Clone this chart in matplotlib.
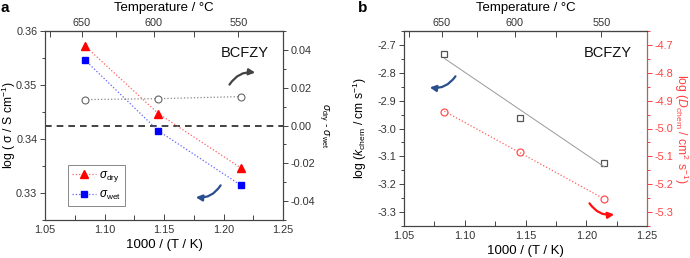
import numpy as np
import matplotlib
matplotlib.use("Agg")
import matplotlib.pyplot as plt
from matplotlib.patches import FancyArrowPatch
from matplotlib.ticker import MultipleLocator, FixedLocator

plt.rcParams['font.family'] = ['Liberation Sans', 'DejaVu Sans']
plt.rcParams['mathtext.fontset'] = 'custom'
plt.rcParams['mathtext.rm'] = 'Liberation Sans'
plt.rcParams['mathtext.it'] = 'Liberation Sans:italic'
plt.rcParams['mathtext.bf'] = 'Liberation Sans:bold'

# ---- data ----
temps_C = [650, 600, 550]
top_ticks = [650, 600, 550]
top_minor = [675, 625, 575]
sigma_dry = [0.3573, 0.3447, 0.3346]
sigma_wet = [0.3547, 0.3415, 0.3314]
sigma_diff = [0.0137, 0.0142, 0.0153]
log_k_chem = [-2.732, -2.963, -3.123]
log_D_chem = [-4.939, -5.085, -5.254]

x = 1000.0 / (np.array(temps_C) + 273.15)

GRAY = '#444444'
RED = '#ff4040'
TS = 7.8

fig = plt.figure(figsize=(6.9, 2.58), dpi=100)

def fwd(v):
    v = np.asarray(v, dtype=float)
    with np.errstate(divide='ignore'):
        return 1000.0 / v - 273.15

def style_axes(ax):
    for s in ax.spines.values():
        s.set_color(GRAY)
        s.set_linewidth(0.8)
    ax.tick_params(axis='x', which='both', direction='in', colors=GRAY,
                   labelcolor='#333333', labelsize=TS, length=4, width=0.7)
    ax.tick_params(axis='x', which='minor', length=3.5)
    ax.tick_params(axis='y', which='both', direction='out', colors=GRAY,
                   labelcolor='#333333', labelsize=TS, length=3.5, width=0.7, pad=2)
    ax.tick_params(axis='y', which='minor', length=2.5)
    ax.set_xlim(1.05, 1.25)
    ax.xaxis.set_major_locator(MultipleLocator(0.05))
    ax.xaxis.set_minor_locator(MultipleLocator(0.025))
    ax.set_xlabel('1000 / (T / K)', fontsize=9.5, labelpad=3)

def add_top(ax):
    sec = ax.secondary_xaxis('top', functions=(fwd, fwd))
    sec.xaxis.set_major_locator(FixedLocator(top_ticks))
    sec.xaxis.set_minor_locator(FixedLocator(top_minor))
    sec.tick_params(which='both', direction='in', colors=GRAY,
                    labelcolor='#333333', labelsize=TS, length=4, width=0.7, pad=2)
    sec.spines['top'].set_color(GRAY)
    sec.set_xlabel('Temperature / \u00b0C', fontsize=9.5, labelpad=5)
    return sec

def arrow(ax, p0, p1, rad, color):
    a = FancyArrowPatch(p0, p1, transform=ax.transAxes,
                        connectionstyle=f'arc3,rad={rad}',
                        arrowstyle='-|>', mutation_scale=9, lw=1.6,
                        color=color, zorder=6)
    ax.add_patch(a)

# ---------- panel a ----------
axa = fig.add_axes([45/690, 1-220/258, 238/690, 189/258])
style_axes(axa)
axa.set_ylim(0.325, 0.36)
axa.yaxis.set_major_locator(MultipleLocator(0.01))
axa.yaxis.set_minor_locator(MultipleLocator(0.005))
axa.set_ylabel('log ( \u03c3 / S cm$^{-1}$)', fontsize=8.7, va='center')
axa.yaxis.set_label_coords(-0.153, 0.5)

axa2 = axa.twinx()
axa2.set_ylim(-0.05, 0.05)
axa2.yaxis.set_major_locator(FixedLocator([-0.04, -0.02, 0.0, 0.02, 0.04]))
axa2.yaxis.set_minor_locator(FixedLocator([-0.05, -0.03, -0.01, 0.01, 0.03, 0.05]))
axa2.yaxis.set_major_formatter(matplotlib.ticker.FormatStrFormatter('%.2f'))
for s in axa2.spines.values():
    s.set_color(GRAY); s.set_linewidth(0.8)
axa2.tick_params(axis='y', which='both', direction='out', colors=GRAY,
                 labelcolor='#333333', labelsize=TS, length=3.5, width=0.7, pad=2)
axa2.tick_params(axis='y', which='minor', length=2.5)
axa2.set_ylabel(r'$\sigma_{\rm dry}$ - $\sigma_{\rm wet}$', fontsize=7.5,
                rotation=270, va='center')
axa2.yaxis.set_label_coords(1.17, 0.5)

axa2.axhline(0, color='#222222', lw=1.2, ls=(0, (4, 3)), zorder=1)
axa2.plot(x, sigma_diff, ls=':', lw=0.9, color='#888888', marker='o', ms=5,
          mfc='white', mec='#666666', mew=0.8, zorder=3)

la, = axa.plot(x, sigma_dry, ls=':', lw=0.9, color='#ff6060', marker='^', ms=6,
               mfc='#ff0000', mec='#ff0000', zorder=4, label=r'$\sigma_{\rm dry}$')
lb, = axa.plot(x, sigma_wet, ls=':', lw=0.9, color='#6060ff', marker='s', ms=5,
               mfc='#0000ff', mec='#0000ff', zorder=4, label=r'$\sigma_{\rm wet}$')
axa.set_zorder(axa2.get_zorder() + 1)
axa.patch.set_visible(False)

leg = axa.legend(handles=[la, lb], loc='lower left', bbox_to_anchor=(0.097, 0.074),
                 borderaxespad=0, fontsize=8.5, handlelength=2.0, handletextpad=0.3,
                 borderpad=0.35, labelspacing=0.4, fancybox=False, framealpha=1,
                 edgecolor='#888888')
leg.get_frame().set_linewidth(0.7)

axa.text(0.84, 0.884, 'BCFZY', transform=axa.transAxes, fontsize=10.5,
         ha='center', va='center', color='#111111')
arrow(axa, (0.769, 0.704), (0.895, 0.778), -0.35, '#444444')
arrow(axa, (0.744, 0.196), (0.622, 0.122), -0.35, '#2a4f8f')
add_top(axa)
fig.text(5/690, 1-8/258, 'a', fontsize=11, fontweight='bold', ha='center', va='center')

# ---------- panel b ----------
axb = fig.add_axes([404/690, 1-226/258, 243/690, 195/258])
style_axes(axb)
axb.set_ylim(-3.35, -2.65)
axb.yaxis.set_major_locator(MultipleLocator(0.1))
axb.yaxis.set_minor_locator(MultipleLocator(0.05))
axb.yaxis.set_major_formatter(matplotlib.ticker.FormatStrFormatter('%.1f'))
axb.set_ylabel(r'log ($k_{\rm chem}$ / cm s$^{-1}$)', fontsize=8.7, va='center')
axb.yaxis.set_label_coords(-0.18, 0.5)

axb2 = axb.twinx()
axb2.set_ylim(-5.35, -4.65)
axb2.yaxis.set_major_locator(MultipleLocator(0.1))
axb2.yaxis.set_minor_locator(MultipleLocator(0.05))
axb2.yaxis.set_major_formatter(matplotlib.ticker.FormatStrFormatter('%.1f'))
for k, s in axb2.spines.items():
    s.set_color(GRAY); s.set_linewidth(0.8)
axb2.spines['right'].set_color(RED)
axb2.tick_params(axis='y', which='both', direction='out', colors=RED,
                 labelcolor=RED, labelsize=TS, length=3.5, width=0.7, pad=2)
axb2.tick_params(axis='y', which='minor', length=2.5)
axb2.set_ylabel(r'log ($D_{\rm chem}$ / cm$^2$ s$^{-1}$)', fontsize=8.7,
                rotation=270, color=RED, va='center')
axb2.yaxis.set_label_coords(1.14, 0.5)

pk = np.polyfit(x, log_k_chem, 1)
pd_ = np.polyfit(x, log_D_chem, 1)
axb.plot(x, log_k_chem, ls='none', marker='s', ms=4.5, mfc='white',
         mec='#555555', mew=0.9, zorder=3)
axb.plot(x, np.polyval(pk, x), ls='-', lw=0.7, color='#999999', zorder=4)
axb2.plot(x, log_D_chem, ls='none', marker='o', ms=5, mfc='white',
          mec='#ff5050', mew=0.9, zorder=3)
axb2.plot(x, np.polyval(pd_, x), ls=':', lw=0.9, color='#ff6060', zorder=4)

axb.text(0.837, 0.887, 'BCFZY', transform=axb.transAxes, fontsize=10.5,
         ha='center', va='center', color='#111111')
arrow(axb, ((457-404)/243, (226-74)/195), ((427-404)/243, (226-87)/195), -0.35, '#2a4f8f')
arrow(axb, ((588-404)/243, (226-201)/195), ((617-404)/243, (226-214)/195), 0.35, '#ff1010')
add_top(axb)
fig.text(363/690, 1-8/258, 'b', fontsize=11, fontweight='bold', ha='center', va='center')

fig.savefig('out.png', dpi=100)
